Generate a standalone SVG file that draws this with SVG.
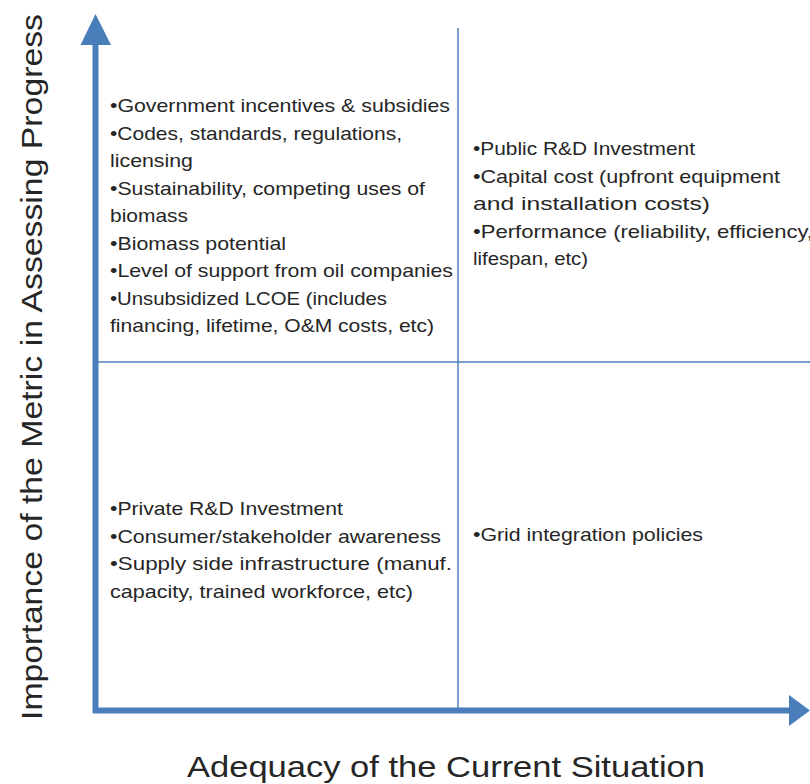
<svg xmlns="http://www.w3.org/2000/svg" width="810" height="784" viewBox="0 0 810 784">
<style>
.t{font-family:"Liberation Sans",Arial,sans-serif;font-size:18.5px;fill:#262626}
.ax{font-family:"Liberation Sans",Arial,sans-serif;font-size:29px;fill:#262626}
.grid{stroke:#4F81BD;stroke-width:1.5;fill:none}
.axis{stroke:#4A7EBB;stroke-width:6;fill:none}
.head{fill:#4A7EBB}
</style>
<rect width="810" height="784" fill="#ffffff"/>
<g id="connectors">
<line class="grid" x1="458" y1="28" x2="458" y2="710"/>
<line class="grid" x1="96" y1="362" x2="810" y2="362"/>
<line class="axis" x1="95.5" y1="44" x2="95.5" y2="713"/>
<polygon class="head" points="95.5,14 80.5,45 111,45"/>
<line class="axis" x1="93" y1="710.5" x2="790" y2="710.5"/>
<polygon class="head" points="810,710.5 789,695 789,726"/>
</g>
<g id="q-top-left">
<text class="t" x="110" y="112" textLength="340" lengthAdjust="spacingAndGlyphs">•Government incentives &amp; subsidies</text>
<text class="t" x="110" y="139.5" textLength="292" lengthAdjust="spacingAndGlyphs">•Codes, standards, regulations,</text>
<text class="t" x="110" y="167" textLength="83" lengthAdjust="spacingAndGlyphs">licensing</text>
<text class="t" x="110" y="194.5" textLength="315" lengthAdjust="spacingAndGlyphs">•Sustainability, competing uses of</text>
<text class="t" x="110" y="222" textLength="78" lengthAdjust="spacingAndGlyphs">biomass</text>
<text class="t" x="110" y="249.5" textLength="176" lengthAdjust="spacingAndGlyphs">•Biomass potential</text>
<text class="t" x="110" y="277" textLength="343" lengthAdjust="spacingAndGlyphs">•Level of support from oil companies</text>
<text class="t" x="110" y="304.5" textLength="277" lengthAdjust="spacingAndGlyphs">•Unsubsidized LCOE (includes</text>
<text class="t" x="110" y="332" textLength="324" lengthAdjust="spacingAndGlyphs">financing, lifetime, O&amp;M costs, etc)</text>
</g>
<g id="q-top-right">
<text class="t" x="473" y="155" textLength="222" lengthAdjust="spacingAndGlyphs">•Public R&amp;D Investment</text>
<text class="t" x="473" y="182.5" textLength="307" lengthAdjust="spacingAndGlyphs">•Capital cost (upfront equipment</text>
<text class="t" x="473" y="210" textLength="237" lengthAdjust="spacingAndGlyphs">and installation costs)</text>
<text class="t" x="473" y="237.5" textLength="340" lengthAdjust="spacingAndGlyphs">•Performance (reliability, efficiency,</text>
<text class="t" x="473" y="265" textLength="115" lengthAdjust="spacingAndGlyphs">lifespan, etc)</text>
</g>
<g id="q-bottom-left">
<text class="t" x="110" y="515" textLength="233" lengthAdjust="spacingAndGlyphs">•Private R&amp;D Investment</text>
<text class="t" x="110" y="542.5" textLength="331" lengthAdjust="spacingAndGlyphs">•Consumer/stakeholder awareness</text>
<text class="t" x="110" y="570" textLength="342" lengthAdjust="spacingAndGlyphs">•Supply side infrastructure (manuf.</text>
<text class="t" x="110" y="597.5" textLength="303" lengthAdjust="spacingAndGlyphs">capacity, trained workforce, etc)</text>
</g>
<g id="q-bottom-right">
<text class="t" x="473" y="541" textLength="230" lengthAdjust="spacingAndGlyphs">•Grid integration policies</text>
</g>
<g id="axis-labels">
<text class="ax" transform="translate(42,720) rotate(-90)" textLength="706" lengthAdjust="spacingAndGlyphs">Importance of the Metric in Assessing Progress</text>
<text class="ax" x="187" y="777" textLength="518" lengthAdjust="spacingAndGlyphs">Adequacy of the Current Situation</text>
</g>
</svg>
